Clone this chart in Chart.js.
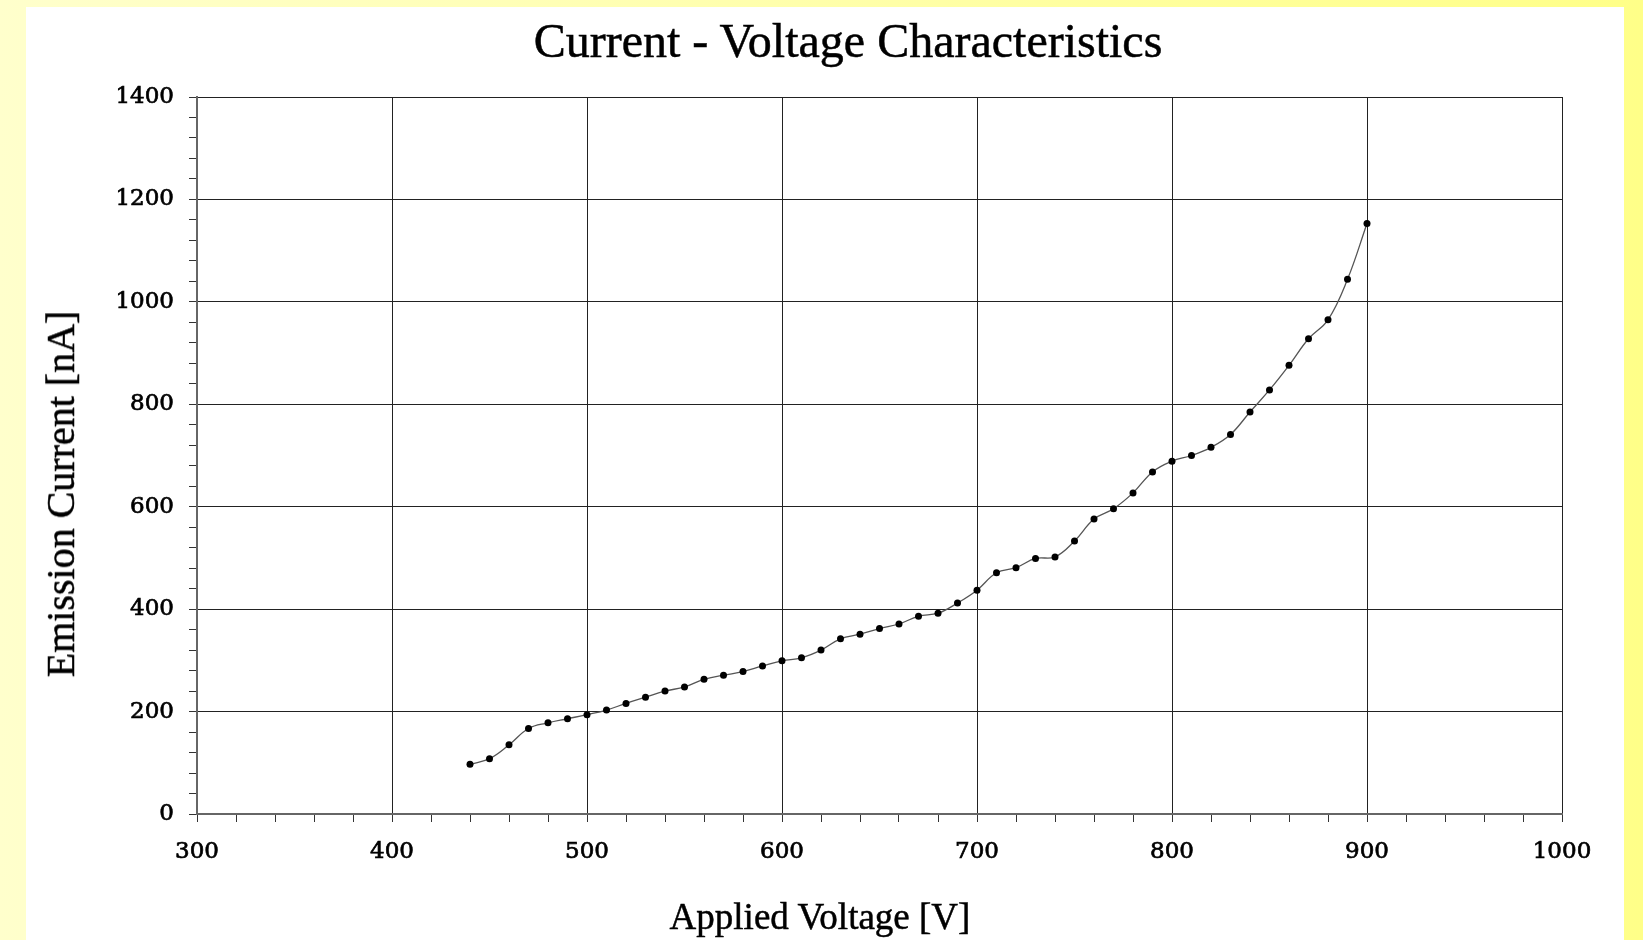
<!DOCTYPE html>
<html>
<head>
<meta charset="utf-8">
<script src="https://cdn.jsdelivr.net/npm/chart.js@4"></script>
<style>
  html, body { margin: 0; padding: 0; }
  body {
    width: 1643px; height: 940px; overflow: hidden; position: relative;
    background: linear-gradient(to right, #ffffcc, #ffff88);
  }
  #panel { position: absolute; left: 26px; top: 7px; width: 1598px; height: 933px; background: #fff; }
  #chart { position: absolute; left: 0; top: 0; }
  .ttl {
    position: absolute; font-family: "Liberation Serif", serif; color: #000;
    line-height: 1; white-space: nowrap; -webkit-text-stroke: 0.5px #000;
  }
  #title { left: 848px; top: 17px; font-size: 48px; transform: translateX(-50%); }
  #xtitle { left: 820px; top: 898px; font-size: 37px; transform: translateX(-50%); }
  #ytitle { left: 61px; top: 494px; font-size: 40px; transform: translate(-50%, -50%) rotate(-90deg); }
</style>
</head>
<body>
<div id="panel"></div>
<canvas id="chart" width="1643" height="940"></canvas>
<div class="ttl" id="title">Current - Voltage Characteristics</div>
<div class="ttl" id="xtitle">Applied Voltage [V]</div>
<div class="ttl" id="ytitle">Emission Current [nA]</div>
<script>
// applied voltage [V]
const voltages = [440, 450, 460, 470, 480, 490, 500, 510, 520, 530,
                  540, 550, 560, 570, 580, 590, 600, 610, 620, 630,
                  640, 650, 660, 670, 680, 690, 700, 710, 720, 730,
                  740, 750, 760, 770, 780, 790, 800, 810, 820, 830,
                  840, 850, 860, 870, 880, 890, 900];

// emission current [nA]
const currents = [97, 108, 135, 167, 178, 186, 194, 203, 216, 228,
                  240, 248, 263, 271, 278, 289, 299, 305, 320, 342,
                  351, 362, 371, 386, 392, 412, 437, 471, 481, 499,
                  502, 533, 576, 596, 627, 668, 689, 700, 716, 741,
                  785, 828, 876, 928, 965, 1044, 1153];

// axis ranges
const xMin = 300, xMax = 1000, xMajor = 100, xMinor = 20;
const yMin = 0, yMax = 1400, yMajor = 200, yMinor = 40;

const points = voltages.map((v, i) => ({ x: v, y: currents[i] }));

const tickFont = { family: "DejaVu Serif", size: 23 };

const ctx = document.getElementById("chart").getContext("2d");

new Chart(ctx, {
    type: "line",
    data: {
        datasets: [{
            data: points,
            borderColor: "#555",
            borderWidth: 1.3,
            tension: 0.4,
            fill: false,
            pointRadius: 3.5,
            pointHoverRadius: 3.5,
            pointBackgroundColor: "#000",
            pointBorderWidth: 0
        }]
    },
    options: {
        responsive: false,
        animation: false,
        devicePixelRatio: 1,
        layout: {
            padding: { left: 0, top: 97, right: 81, bottom: 0 }
        },
        scales: {
            x: {
                type: "linear",
                min: xMin,
                max: xMax,
                afterFit: (scale) => { scale.height = 126; },
                ticks: {
                    stepSize: xMinor,
                    autoSkip: false,
                    maxRotation: 0,
                    padding: 16,
                    color: "#000",
                    textStrokeColor: "#000",
                    textStrokeWidth: 0.7,
                    font: tickFont,
                    callback: (v) => (v % xMajor === 0 ? v : "")
                },
                grid: {
                    color: (c) => (c.tick && c.tick.value % xMajor === 0 ? "#222" : "rgba(0,0,0,0)"),
                    tickColor: "#333",
                    tickLength: 8,
                    lineWidth: 1
                },
                border: { color: "#666", width: 2 }
            },
            y: {
                min: yMin,
                max: yMax,
                afterFit: (scale) => { scale.width = 197; },
                ticks: {
                    stepSize: yMinor,
                    autoSkip: false,
                    padding: 15,
                    color: "#000",
                    textStrokeColor: "#000",
                    textStrokeWidth: 0.7,
                    font: tickFont,
                    callback: (v) => (v % yMajor === 0 ? v : "")
                },
                grid: {
                    color: (c) => (c.tick && c.tick.value % yMajor === 0 ? "#222" : "rgba(0,0,0,0)"),
                    tickColor: "#333",
                    tickLength: 8,
                    lineWidth: 1
                },
                border: { color: "#666", width: 2 }
            }
        },
        plugins: {
            legend: { display: false },
            tooltip: { enabled: false }
        }
    }
});
</script>
</body>
</html>
